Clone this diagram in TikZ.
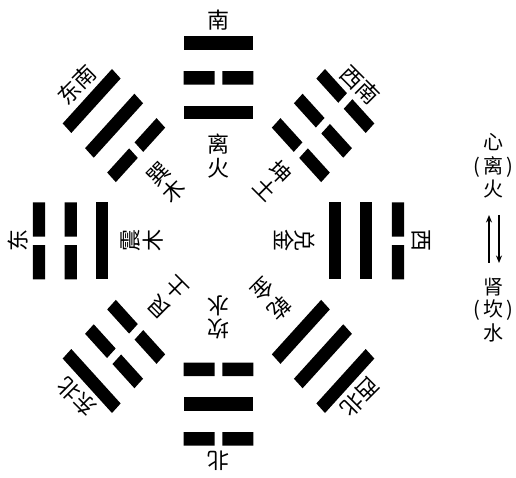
\documentclass[tikz,border=0pt]{standalone}
\usepackage{fontspec}
\newfontfamily\cjk{Noto Sans CJK SC}
\usetikzlibrary{arrows.meta}
\tikzset{
  yao/.style={fill=black, draw=none},
  lbl/.style={font=\cjk\fontsize{22}{22}\selectfont, inner sep=0pt},
  legend/.style={font=\cjk\fontsize{20}{20}\selectfont, inner sep=0pt},
  flow/.style={line width=1.3pt, -{Stealth[length=7.5pt,width=6pt]}},
}
% solid line: rotation, radius
\newcommand\yangyao[2]{\fill[yao,rotate=#1] (-38.5,#2-6.75) rectangle (38.5,#2+6.75);}
% broken line: rotation, radius
\newcommand\yinyao[2]{\fill[yao,rotate=#1] (-38.5,#2-6.75) rectangle (-4.25,#2+6.75) (4.25,#2-6.75) rectangle (38.5,#2+6.75);}
\begin{document}
\begin{tikzpicture}[x=1pt,y=1pt]
\useasboundingbox (0,0) rectangle (516,478);
\begin{scope}[shift={(218.5,237)}, xscale=0.906]
  % South: Li
  \yangyao{0}{128.5}\yinyao{0}{163}\yangyao{0}{198}
  \node[lbl,rotate=0] (s-dir) at (90:221) {南};
  \node[lbl,rotate=0] (s-a) at (90:97) {离};
  \node[lbl,rotate=0] (s-b) at (90:73) {火};
  % South-west (top right): Kun
  \yinyao{-45}{128.5}\yinyao{-45}{163}\yinyao{-45}{198}
  \node[lbl,rotate=-45] (sw-dir) at (45:221) {西南};
  \node[lbl,rotate=-45] (sw-a) at (45:97) {坤};
  \node[lbl,rotate=-45] (sw-b) at (45:73) {土};
  % West (right): Dui
  \yangyao{-90}{128.5}\yangyao{-90}{163}\yinyao{-90}{198}
  \node[lbl,rotate=-90] (w-dir) at (0:224) {西};
  \node[lbl,rotate=-90] (w-a) at (0:95) {兑};
  \node[lbl,rotate=-90] (w-b) at (0:73) {金};
  % North-west (bottom right): Qian
  \yangyao{-135}{128.5}\yangyao{-135}{163}\yangyao{-135}{198}
  \node[lbl,rotate=-135] (nw-dir) at (-45:221) {西北};
  \node[lbl,rotate=-135] (nw-a) at (-45:95) {乾};
  \node[lbl,rotate=-135] (nw-b) at (-45:69) {金};
  % North (bottom): Kan
  \yinyao{180}{128.5}\yangyao{180}{163}\yinyao{180}{198}
  \node[lbl,rotate=180] (n-dir) at (-90:220) {北};
  \node[lbl,rotate=180] (n-a) at (-90:88) {坎};
  \node[lbl,rotate=180] (n-b) at (-90:65) {水};
  % North-east (bottom left): Gen
  \yinyao{135}{128.5}\yinyao{135}{163}\yangyao{135}{198}
  \node[lbl,rotate=135] (ne-dir) at (-135:221) {东北};
  \node[lbl,rotate=135] (ne-a) at (-135:93) {艮};
  \node[lbl,rotate=135] (ne-b) at (-135:66) {土};
  % East (left): Zhen
  \yangyao{90}{128.5}\yinyao{90}{163}\yinyao{90}{198}
  \node[lbl,rotate=90] (e-dir) at (180:221) {东};
  \node[lbl,rotate=90] (e-a) at (180:97) {震};
  \node[lbl,rotate=90] (e-b) at (180:72) {木};
  % South-east (top left): Xun
  \yinyao{45}{128.5}\yangyao{45}{163}\yangyao{45}{198}
  \node[lbl,rotate=45] (se-dir) at (135:221) {东南};
  \node[lbl,rotate=45] (se-a) at (135:94) {巽};
  \node[lbl,rotate=45] (se-b) at (135:71) {木};
\end{scope}
% legend
\node[legend] (xin) at (493,336) {心};
\node[legend] (li) at (493,311) {(\hspace{3pt}离\hspace{3pt})};
\node[legend] (huo) at (493,289) {火};
\node[legend] (shen) at (493,191) {肾};
\node[legend] (kan) at (493,168) {(\hspace{3pt}坎\hspace{3pt})};
\node[legend] (shui) at (493,145) {水};
\coordinate (upfrom) at (489,215);
\coordinate (upto) at (489,263);
\coordinate (downfrom) at (499,263);
\coordinate (downto) at (499,215);
\draw[flow] (upfrom) -- (upto);
\draw[flow] (downfrom) -- (downto);
\end{tikzpicture}
\end{document}
